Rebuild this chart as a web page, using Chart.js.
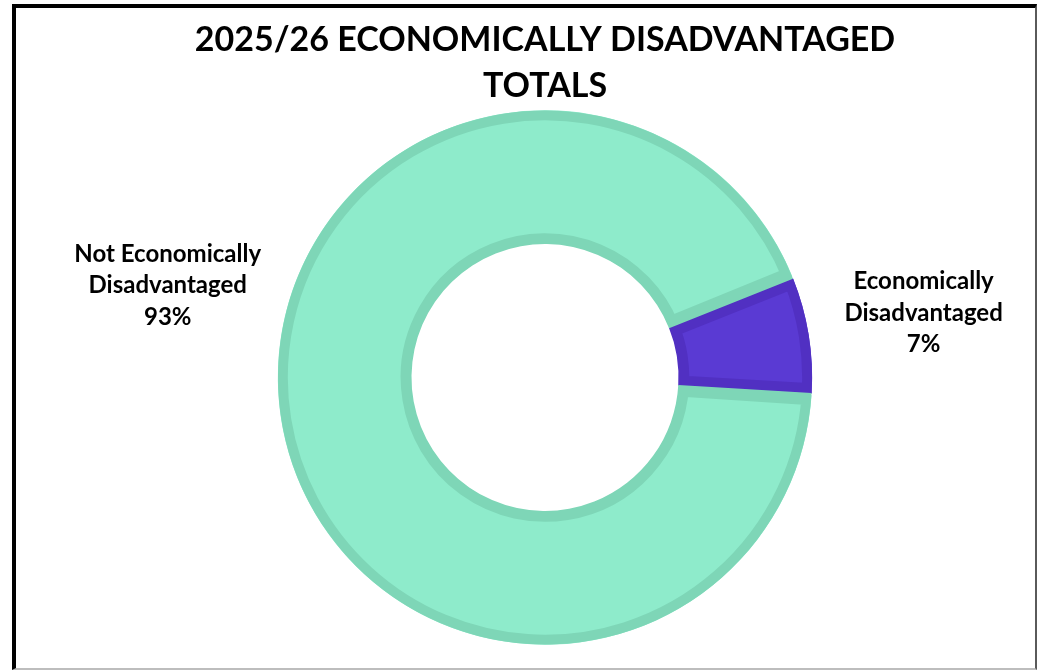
<!DOCTYPE html>
<html>
<head>
<meta charset="utf-8">
<title>2025/26 Economically Disadvantaged Totals</title>
<script src="https://cdn.jsdelivr.net/npm/chart.js@4.4.1/dist/chart.umd.min.js"></script>
<style>
  html, body { margin: 0; padding: 0; background: #ffffff; }
  .frame {
    position: absolute; left: 12px; top: 4px;
    width: 1025px; height: 666px; box-sizing: border-box;
    border-left: 4px solid #000; border-top: 4px solid #000;
    border-right: 2px solid #5a5a5a; border-bottom: 2px solid #bdbdbd;
  }
  #chart { position: absolute; left: 52px; top: 0; }
</style>
</head>
<body>
<div class="frame"></div>
<canvas id="chart" width="986" height="670"></canvas>
<script>
// data
const categories = ['Economically Disadvantaged', 'Not Economically Disadvantaged'];
const percents = [7, 93];
const labelLines = [
  ['Economically', 'Disadvantaged', '7%'],
  ['Not Economically', 'Disadvantaged', '93%']
];

// colours
const fillColors = ['#5a3ad3', '#8eebcb'];
const edgeColors = ['#5130c2', '#7ed6b7'];

// label anchors relative to ring centre, in outer radii (x, baseline of middle line)
const labelAnchors = [[1.418, -0.213], [-1.413, -0.316]];
const lineGap = 31.5;

const outsideLabels = {
  id: 'outsideLabels',
  afterDatasetsDraw(chart) {
    const ctx = chart.ctx;
    const arcs = chart.getDatasetMeta(0).data;
    ctx.save();
    ctx.font = 'bold 24px Lato';
    ctx.fillStyle = '#000';
    ctx.textAlign = 'center';
    ctx.textBaseline = 'alphabetic';
    arcs.forEach((arc, i) => {
      const { x, y, outerRadius } = arc.getProps(['x', 'y', 'outerRadius'], true);
      const ax = x + labelAnchors[i][0] * outerRadius;
      const ay = y + labelAnchors[i][1] * outerRadius;
      labelLines[i].forEach((t, k) => {
        ctx.fillText(t, ax, ay + (k - 1) * lineGap);
      });
    });
    ctx.restore();
  }
};

new Chart(document.getElementById('chart'), {
  type: 'doughnut',
  data: {
    labels: categories,
    datasets: [{
      data: percents,
      backgroundColor: fillColors,
      borderColor: edgeColors,
      borderWidth: 10,
      borderAlign: 'inner',
      hoverOffset: 0,
      offset: 0,
      spacing: 1
    }]
  },
  options: {
    responsive: false,
    animation: false,
    events: [],
    cutout: '50%',
    rotation: 68.2,
    layout: { padding: { left: 0, right: 0, top: 0, bottom: 25 } },
    plugins: {
      legend: { display: false },
      tooltip: { enabled: false },
      title: {
        display: true,
        text: ['2025/26 ECONOMICALLY DISADVANTAGED', 'TOTALS'],
        color: '#000',
        font: { family: 'Lato', size: 34, weight: 'bold', lineHeight: 1.353 },
        padding: { top: 17, bottom: 1 }
      }
    }
  },
  plugins: [outsideLabels]
});
</script>
</body>
</html>
